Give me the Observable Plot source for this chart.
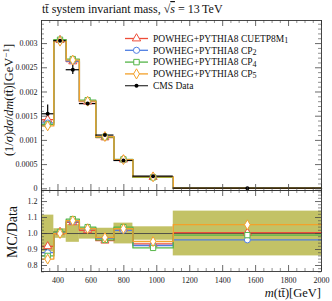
<!DOCTYPE html>
<html><head><meta charset="utf-8">
<script src="https://cdn.jsdelivr.net/npm/d3@7"></script>
<script src="https://cdn.jsdelivr.net/npm/@observablehq/plot@0.6"></script>
<style>
html,body{margin:0;padding:0;background:#fff;}
#wrap{position:relative;width:332px;height:301px;overflow:hidden;font-family:"Liberation Serif","DejaVu Serif",serif;}
#wrap > *{position:absolute;}
</style></head>
<body><div id="wrap"></div>
<script>
// ---- data ----
const binEdges = [300, 375, 450, 530, 630, 740, 855, 1100, 2000];
const dataVals = [0.00155, 0.00306, 0.00246, 0.00176, 0.00111, 0.000585, 0.00026, 0.000012];
const dataErrs = [0.00018, 0.00009, 0.0001, 0.00006, 0.00004, 0.00003, 0.00001, 0.000002];
const seriesBase = ["POWHEG+PYTHIA8 CUETP8M", "POWHEG+PYTHIA8 CP", "POWHEG+PYTHIA8 CP", "POWHEG+PYTHIA8 CP"];
const seriesSuffix = ["1", "2", "4", "5"];
const seriesColors = ["#ee4d38", "#4f7ee2", "#55b548", "#f3a12a"];
const seriesSymbols = ["triangle", "circle", "square", "diamond"];
const mcCUETP8M1 = [0.00143, 0.00307, 0.00263, 0.00180, 0.00106, 0.000603, 0.000243, 0.000012];
const mcCP2      = [0.00136, 0.00306, 0.00264, 0.00181, 0.00108, 0.000597, 0.000240, 0.000012];
const mcCP4      = [0.00133, 0.00308, 0.00268, 0.00183, 0.00107, 0.000608, 0.000237, 0.000012];
const mcCP5      = [0.00130, 0.00305, 0.00266, 0.00181, 0.00108, 0.000603, 0.000247, 0.000012];
const ratioCUETP8M1 = [0.92, 1.01, 1.07, 1.02, 0.955, 1.03, 0.935, 1.005];
const ratioCP2      = [0.88, 1.005, 1.075, 1.03, 0.97, 1.02, 0.925, 0.96];
const ratioCP4      = [0.86, 1.01, 1.09, 1.04, 0.96, 1.04, 0.91, 0.99];
const ratioCP5      = [0.84, 1.0, 1.08, 1.03, 0.975, 1.03, 0.95, 1.055];
const bandLo = [0.885, 0.97, 0.945, 0.965, 0.967, 0.935, 0.958, 0.86];
const bandHi = [1.115, 1.03, 1.055, 1.035, 1.033, 1.065, 1.042, 1.14];
const xMajorTicks = [400, 600, 800, 1000, 1200, 1400, 1600, 1800, 2000];
const yTopTicks = [0, 0.0005, 0.001, 0.0015, 0.002, 0.0025, 0.003];
const yRatioTicks = [0.8, 0.9, 1.0, 1.1, 1.2];
const titleText = "system invariant mass,";
// ---- build ----
const mcTop = [mcCUETP8M1, mcCP2, mcCP4, mcCP5];
const mcRatio = [ratioCUETP8M1, ratioCP2, ratioCP4, ratioCP5];
const FONT = "'Liberation Serif','DejaVu Serif',serif";
const W = 332, ML = 41, MR = 11;
const xDomain = [300, 2000];
const xMinor = d3.range(300, 2001, 50).filter(v => !xMajorTicks.includes(v));
const centers = binEdges.slice(0, -1).map((e, i) => (e + binEdges[i + 1]) / 2);
const tickCol = "#444";
const symMap = {triangle: d3.symbolTriangle, circle: d3.symbolCircle, square: d3.symbolSquare, diamond: d3.symbolDiamond};

function stepRows(vals) {
  return binEdges.map((e, i) => ({x: e, y: vals[Math.min(i, vals.length - 1)]}));
}
function frameTicks(H, fw, yMaj, yMin) {
  const m = [];
  m.push(Plot.tickX(xMajorTicks, {x: d => d, insetTop: H - 6, stroke: tickCol, strokeWidth: 0.8}));
  m.push(Plot.tickX(xMajorTicks, {x: d => d, insetBottom: H - 6, stroke: tickCol, strokeWidth: 0.8}));
  m.push(Plot.tickX(xMinor, {x: d => d, insetTop: H - 3, stroke: tickCol, strokeWidth: 0.6}));
  m.push(Plot.tickX(xMinor, {x: d => d, insetBottom: H - 3, stroke: tickCol, strokeWidth: 0.6}));
  m.push(Plot.tickY(yMaj, {y: d => d, insetRight: fw - 6, stroke: tickCol, strokeWidth: 0.8}));
  m.push(Plot.tickY(yMaj, {y: d => d, insetLeft: fw - 6, stroke: tickCol, strokeWidth: 0.8}));
  m.push(Plot.tickY(yMin, {y: d => d, insetRight: fw - 3, stroke: tickCol, strokeWidth: 0.6}));
  m.push(Plot.tickY(yMin, {y: d => d, insetLeft: fw - 3, stroke: tickCol, strokeWidth: 0.6}));
  return m;
}
const FW = W - ML - MR;

// top panel
const topH = 200, topMT = 20, topMB = 10, topFH = topH - topMT - topMB;
const yTopMinor = d3.range(0, 0.00345, 0.0001).filter(v => !yTopTicks.some(t => Math.abs(t - v) < 1e-9));
const topMarks = [];
mcTop.forEach((vals, k) => {
  topMarks.push(Plot.line(stepRows(vals), {x: "x", y: "y", curve: "step-after", stroke: seriesColors[k], strokeWidth: 1.3}));
});
const dataRows = dataVals.map((v, i) => ({c: centers[i], lo: binEdges[i], hi: binEdges[i + 1], v, e: dataErrs[i]}));
topMarks.push(Plot.ruleY(dataRows, {y: "v", x1: "lo", x2: "hi", stroke: "#000", strokeWidth: 1.2}));
topMarks.push(Plot.ruleX(dataRows, {x: "c", y1: d => d.v - d.e, y2: d => d.v + d.e, stroke: "#000", strokeWidth: 1.2}));
mcTop.forEach((vals, k) => {
  topMarks.push(Plot.dot(vals.map((v, i) => ({x: centers[i], y: v})).slice(0, 7), {x: "x", y: "y", symbol: seriesSymbols[k], r: 3, stroke: seriesColors[k], fill: "white", strokeWidth: 1}));
});
topMarks.push(Plot.dot(dataRows, {x: "c", y: "v", fill: "#000", r: 2}));
topMarks.push(...frameTicks(topFH, FW, yTopTicks, yTopMinor));
topMarks.push(Plot.axisY({ticks: yTopTicks, tickSize: 0, tickPadding: 4, fontSize: 8, tickFormat: d => String(d), fill: "#222"}));
topMarks.push(Plot.frame({stroke: "#333", strokeWidth: 0.9}));

const topPlot = Plot.plot({
  width: W, height: topH, marginLeft: ML, marginRight: MR, marginTop: topMT, marginBottom: topMB,
  x: {domain: xDomain, axis: null},
  y: {domain: [-0.000035, 0.003477], axis: null},
  style: {fontFamily: FONT, background: "transparent", overflow: "visible"},
  marks: topMarks
});
topPlot.style.left = "0px"; topPlot.style.top = "0px";

// ratio panel
const rH = 111, rMT = 0, rMB = 30, rFH = rH - rMT - rMB;
const yRatioMinor = d3.range(0.76, 1.27, 0.02).filter(v => !yRatioTicks.some(t => Math.abs(t - v) < 1e-6));
const rMarks = [];
rMarks.push(Plot.rect(bandLo.map((lo, i) => ({x1: binEdges[i], x2: binEdges[i + 1], lo, hi: bandHi[i]})), {x1: "x1", x2: "x2", y1: "lo", y2: "hi", fill: "#bdbb55", fillOpacity: 0.9}));
rMarks.push(Plot.ruleY([1], {stroke: "#444", strokeWidth: 0.9}));
mcRatio.forEach((vals, k) => {
  rMarks.push(Plot.line(stepRows(vals), {x: "x", y: "y", curve: "step-after", stroke: seriesColors[k], strokeWidth: 1.3}));
});
mcRatio.forEach((vals, k) => {
  rMarks.push(Plot.dot(vals.map((v, i) => ({x: centers[i], y: v})), {x: "x", y: "y", symbol: seriesSymbols[k], r: 3, stroke: seriesColors[k], fill: "white", strokeWidth: 1}));
});
rMarks.push(...frameTicks(rFH, FW, yRatioTicks, yRatioMinor));
rMarks.push(Plot.axisY({ticks: yRatioTicks, tickSize: 0, tickPadding: 4, fontSize: 8, tickFormat: d3.format(".1f"), fill: "#222"}));
rMarks.push(Plot.axisX({ticks: xMajorTicks, tickSize: 0, tickPadding: 6, fontSize: 8, tickFormat: d => String(d), fill: "#222"}));
rMarks.push(Plot.frame({stroke: "#333", strokeWidth: 0.9}));
const rPlot = Plot.plot({
  width: W, height: rH, marginLeft: ML, marginRight: MR, marginTop: rMT, marginBottom: rMB,
  x: {domain: xDomain, axis: null},
  y: {domain: [0.7625, 1.269], axis: null},
  style: {fontFamily: FONT, background: "transparent", overflow: "visible"},
  marks: rMarks
});
rPlot.style.left = "0px"; rPlot.style.top = (topH - topMB) + "px";

const wrap = document.getElementById("wrap");
wrap.appendChild(rPlot);
wrap.appendChild(topPlot);

// overlay texts & legend
const ov = d3.create("svg").attr("width", W).attr("height", 301)
  .style("left", "0px").style("top", "0px").style("font-family", FONT).style("pointer-events", "none");
// title
const t = ov.append("text").attr("x", 42).attr("y", 13).attr("font-size", 12).attr("fill", "#111");
t.append("tspan").text("t");
t.append("tspan").text("t\u0304");
t.append("tspan").text(" " + titleText + " ");
t.append("tspan").text("\u221A");
t.append("tspan").attr("font-style", "italic").attr("text-decoration", "overline").text("s");
t.append("tspan").text(" = 13\u2009TeV");
// y label top
const yl = ov.append("text").attr("transform", "translate(13,100) rotate(-90)").attr("text-anchor", "middle").attr("font-size", 12.5).attr("fill", "#111");
yl.append("tspan").text("(1/");
yl.append("tspan").attr("font-style", "italic").text("\u03C3");
yl.append("tspan").text(")");
yl.append("tspan").attr("font-style", "italic").text("d\u03C3");
yl.append("tspan").text("/");
yl.append("tspan").attr("font-style", "italic").text("dm");
yl.append("tspan").text("(tt\u0304)[GeV");
yl.append("tspan").attr("dy", -4.5).attr("font-size", 9).text("\u22121");
yl.append("tspan").attr("dy", 4.5).text("]");
// ratio y label
ov.append("text").attr("transform", "translate(17,232) rotate(-90)").attr("text-anchor", "middle").attr("font-size", 14).attr("fill", "#111").text("MC/Data");
// x label
const xl = ov.append("text").attr("x", 321).attr("y", 297).attr("text-anchor", "end").attr("font-size", 12.5).attr("fill", "#111");
xl.append("tspan").attr("font-style", "italic").text("m");
xl.append("tspan").text("(tt\u0304)[GeV]");
// legend
const legY0 = 38.5, legDy = 11.8;
seriesBase.forEach((name, k) => {
  const y = legY0 + k * legDy;
  ov.append("line").attr("x1", 125).attr("x2", 148).attr("y1", y).attr("y2", y).attr("stroke", seriesColors[k]).attr("stroke-width", 1.3);
  ov.append("path").attr("d", d3.symbol(symMap[seriesSymbols[k]], 30)())
    .attr("transform", `translate(136.5,${y})`).attr("fill", "white").attr("stroke", seriesColors[k]);
  const tx = ov.append("text").attr("x", 153).attr("y", y).attr("dy", "0.35em").attr("font-size", 9.5).attr("fill", "#111");
  tx.append("tspan").text(name);
  tx.append("tspan").attr("font-size", 8).attr("dy", 1.2).text(seriesSuffix[k]);
});
{
  const y = legY0 + 4 * legDy;
  ov.append("line").attr("x1", 125).attr("x2", 148).attr("y1", y).attr("y2", y).attr("stroke", "#333").attr("stroke-width", 1.2);
  ov.append("circle").attr("cx", 136.5).attr("cy", y).attr("r", 2).attr("fill", "#000");
  ov.append("text").attr("x", 153).attr("y", y).attr("dy", "0.35em").attr("font-size", 9.5).attr("fill", "#111").text("CMS Data");
}
wrap.appendChild(ov.node());
</script>
</body></html>
